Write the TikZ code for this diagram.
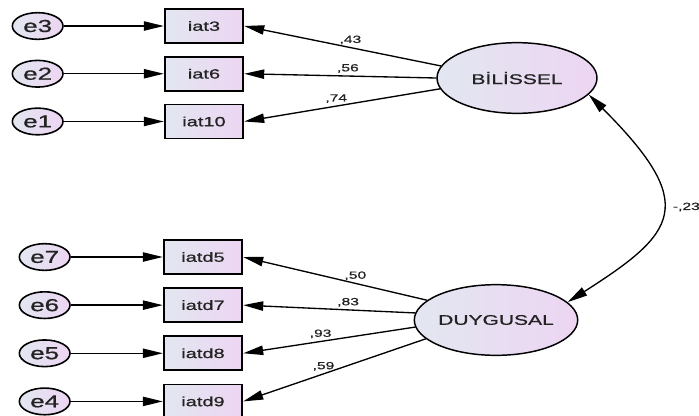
\documentclass[tikz,border=0pt]{standalone}
\usepackage{fontspec}
\newfontfamily\amosfont[FakeStretch=1.5, FakeBold=0.8]{Liberation Sans}
\usepackage{tikz}
\usetikzlibrary{shapes,arrows.meta,positioning,calc}

\definecolor{fillleft}{RGB}{226,231,241}
\definecolor{fillright}{RGB}{237,213,242}
\definecolor{txt}{RGB}{35,35,35}

\begin{document}
\begin{tikzpicture}[
    x=0.75pt, y=-0.75pt,
    font=\amosfont, text=txt,
    errnode/.style={ellipse, draw, line width=1.2pt, left color=fillleft, right color=fillright, minimum width=38pt, minimum height=20pt, inner sep=0pt, font=\amosfont\fontsize{13}{14}\selectfont},
    obsbox/.style={rectangle, draw, line width=1.3pt, left color=fillleft, right color=fillright, minimum width=59pt, minimum height=25.5pt, inner sep=0pt, font=\amosfont\fontsize{10}{11}\selectfont},
    latent/.style={ellipse, draw, line width=1.1pt, left color=fillleft, right color=fillright, minimum width=120pt, minimum height=53pt, inner sep=0pt, font=\amosfont\fontsize{10.5}{12}\selectfont},
    line/.style={draw, line width=1pt, -{Triangle[length=15pt, width=7pt]}},
    cov/.style={draw, line width=1pt, {Triangle[length=15pt, width=7pt]}-{Triangle[length=15pt, width=7pt]}},
    coef/.style={font=\amosfont\fontsize{7.8}{8}\selectfont, inner sep=2pt}
]
    \useasboundingbox (0,0) rectangle (699,415);

    % latent variables
    \node [latent] (bil) at (517,78) {BİLİSSEL};
    \node [latent] (dg) at (496,320) {DUYGUSAL};

    % bilissel indicators
    \node [obsbox] (iat3) at (204,26) {iat3};
    \node [obsbox, below=9pt of iat3] (iat6) {iat6};
    \node [obsbox, below=9pt of iat6] (iat10) {iat10};
    \node [errnode, left=75pt of iat3] (e3) {e3};
    \node [errnode, left=75pt of iat6] (e2) {e2};
    \node [errnode, left=75pt of iat10] (e1) {e1};

    % duygusal indicators
    \node [obsbox] (iatd5) at (203,257) {iatd5};
    \node [obsbox, below=9.3pt of iatd5] (iatd7) {iatd7};
    \node [obsbox, below=9.3pt of iatd7] (iatd8) {iatd8};
    \node [obsbox, below=9.3pt of iatd8] (iatd9) {iatd9};
    \node [errnode, left=69pt of iatd5] (e7) {e7};
    \node [errnode, left=69pt of iatd7] (e6) {e6};
    \node [errnode, left=69pt of iatd8] (e5) {e5};
    \node [errnode, left=69pt of iatd9] (e4) {e4};

    \foreach \e/\o in {e3/iat3, e2/iat6, e1/iat10, e7/iatd5, e6/iatd7, e5/iatd8, e4/iatd9}
        \draw [line] (\e) -- (\o);

    \draw [line] (bil.171) -- node[coef, pos=0.46, above] {,43} (iat3.east);
    \draw [line] (bil.180) -- node[coef, pos=0.46, above] {,56} (iat6.east);
    \draw [line] (bil.188) -- node[coef, pos=0.53, above] {,74} (iat10.east);

    \draw [line] (dg.164) -- node[coef, pos=0.39, above] {,50} (iatd5.east);
    \draw [line] (dg.175) -- node[coef, pos=0.39, above] {,83} (iatd7.east);
    \draw [line] (dg.185) -- node[coef, pos=0.55, above] {,93} (iatd8.east);
    \draw [line] (dg.195) -- node[coef, pos=0.56, above] {,59} (iatd9.east);

    \draw [cov] (dg.14) .. controls +(110,-70) and +(110,110) .. (bil.-13);
    \node [coef, anchor=west] (r) at (670,207) {-,23};
\end{tikzpicture}
\end{document}
